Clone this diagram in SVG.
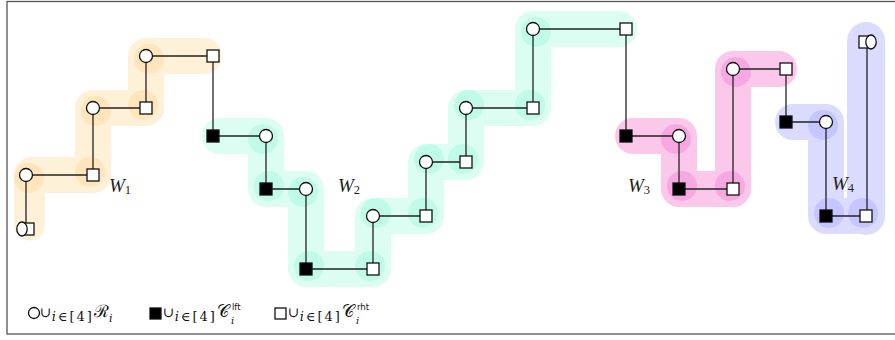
<svg xmlns="http://www.w3.org/2000/svg" xmlns:xlink="http://www.w3.org/1999/xlink" width="895" height="340" viewBox="0 0 895 340">
<style>
.band line,.band polyline{fill:none;stroke-linecap:round;stroke-linejoin:round;stroke-width:36}
.o{stroke:#ffb030;fill:#ffb030}
.c{stroke:#20f0b0;fill:#20f0b0}
.p{stroke:#f020b0;fill:#f020b0}
.b{stroke:#5050ff;fill:#5050ff}
.dk circle{stroke:none}
.edges line{stroke:#222;stroke-width:1.3}
.wn{fill:#fff;stroke:#111;stroke-width:1.3}
.bn{fill:#000;stroke:#111;stroke-width:1.3}
.lbl{font-family:"Liberation Serif","DejaVu Serif",serif;font-style:italic;font-size:19px;fill:#222}
.sub{font-family:"Liberation Serif","DejaVu Serif",serif;font-style:normal;font-size:12.5px;fill:#222}
.m{font-family:"DejaVu Serif","Liberation Serif",serif;fill:#111}
.s{font-family:"DejaVu Sans","Liberation Sans",sans-serif;fill:#111}
.ls{font-size:13px;letter-spacing:2px}
</style>
<defs>
<rect id="sq" x="-6" y="-6" width="12" height="12"/>
<circle id="ci" r="6.5"/>
</defs>
<rect x="0" y="0" width="895" height="340" fill="#fff"/>
<g id="bands">
<g class="band o" opacity="0.18">
<line x1="29.5" y1="225" x2="29.5" y2="178" style="stroke-width:31"/>
<polyline points="32,175 93,175 93,108 146,108 146,56 204,56"/>
</g>
<g class="dk o" opacity="0.16">
<circle cx="29" cy="178" r="15"/><circle cx="90" cy="172" r="15"/><circle cx="96" cy="111" r="15"/><circle cx="143" cy="105" r="15"/><circle cx="149" cy="59" r="15"/>
</g>
<g class="band c" opacity="0.16">
<polyline points="220,136 266,136 266,189 306,189 306,269 373,269 373,216 426,216 426,162 466,162 466,108 533,108 533,29 619,29"/>
</g>
<g class="dk c" opacity="0.14">
<circle cx="263" cy="139" r="15"/><circle cx="269" cy="186" r="15"/><circle cx="303" cy="192" r="15"/><circle cx="309" cy="266" r="15"/><circle cx="370" cy="266" r="15"/><circle cx="376" cy="213" r="15"/><circle cx="423" cy="213" r="15"/><circle cx="429" cy="159" r="15"/><circle cx="463" cy="159" r="15"/><circle cx="469" cy="105" r="15"/><circle cx="530" cy="105" r="15"/><circle cx="536" cy="32" r="15"/>
</g>
<g class="band p" opacity="0.25">
<polyline points="633,136 679,136 679,189 733,189 733,69 779,69"/>
</g>
<g class="dk p" opacity="0.18">
<circle cx="676" cy="139" r="15"/><circle cx="682" cy="186" r="15"/><circle cx="730" cy="186" r="15"/><circle cx="736" cy="72" r="15"/>
</g>
<g class="band b" opacity="0.2">
<polyline points="793,122 826,122 826,216 866,216"/>
<line x1="866" y1="216" x2="866" y2="41" style="stroke-width:38"/>
</g>
<g class="dk b" opacity="0.15">
<circle cx="823" cy="125" r="15"/><circle cx="829" cy="213" r="15"/><circle cx="863" cy="213" r="15"/>
</g>
</g>
<g id="connectors" class="edges">
<line x1="26" y1="229" x2="26" y2="175"/>
<line x1="26" y1="175" x2="93" y2="175"/>
<line x1="93" y1="175" x2="93" y2="108"/>
<line x1="93" y1="108" x2="146" y2="108"/>
<line x1="146" y1="108" x2="146" y2="56"/>
<line x1="146" y1="56" x2="213" y2="56"/>
<line x1="213" y1="56" x2="213" y2="136"/>
<line x1="213" y1="136" x2="266" y2="136"/>
<line x1="266" y1="136" x2="266" y2="189"/>
<line x1="266" y1="189" x2="306" y2="189"/>
<line x1="306" y1="189" x2="306" y2="269"/>
<line x1="306" y1="269" x2="373" y2="269"/>
<line x1="373" y1="269" x2="373" y2="216"/>
<line x1="373" y1="216" x2="426" y2="216"/>
<line x1="426" y1="216" x2="426" y2="162"/>
<line x1="426" y1="162" x2="466" y2="162"/>
<line x1="466" y1="162" x2="466" y2="108"/>
<line x1="466" y1="108" x2="533" y2="108"/>
<line x1="533" y1="108" x2="533" y2="29"/>
<line x1="533" y1="29" x2="626" y2="29"/>
<line x1="626" y1="29" x2="626" y2="136"/>
<line x1="626" y1="136" x2="679" y2="136"/>
<line x1="679" y1="136" x2="679" y2="189"/>
<line x1="679" y1="189" x2="733" y2="189"/>
<line x1="733" y1="189" x2="733" y2="69"/>
<line x1="733" y1="69" x2="786" y2="69"/>
<line x1="786" y1="69" x2="786" y2="122"/>
<line x1="786" y1="122" x2="826" y2="122"/>
<line x1="826" y1="122" x2="826" y2="216"/>
<line x1="826" y1="216" x2="866" y2="216"/>
<line x1="867" y1="216" x2="867" y2="42"/>
</g>
<g id="nodes">
<g id="n1"><use href="#sq" class="wn" x="28" y="229"/><ellipse class="wn" cx="22" cy="229" rx="5.2" ry="7"/></g>
<g id="n2"><use href="#ci" class="wn" x="26" y="175"/></g>
<g id="n3"><use href="#sq" class="wn" x="93" y="175"/></g>
<g id="n4"><use href="#ci" class="wn" x="93" y="108"/></g>
<g id="n5"><use href="#sq" class="wn" x="146" y="108"/></g>
<g id="n6"><use href="#ci" class="wn" x="146" y="56"/></g>
<g id="n7"><use href="#sq" class="wn" x="213" y="56"/></g>
<g id="n8"><use href="#sq" class="bn" x="213" y="136"/></g>
<g id="n9"><use href="#ci" class="wn" x="266" y="136"/></g>
<g id="n10"><use href="#sq" class="bn" x="266" y="189"/></g>
<g id="n11"><use href="#ci" class="wn" x="306" y="189"/></g>
<g id="n12"><use href="#sq" class="bn" x="306" y="269"/></g>
<g id="n13"><use href="#sq" class="wn" x="373" y="269"/></g>
<g id="n14"><use href="#ci" class="wn" x="373" y="216"/></g>
<g id="n15"><use href="#sq" class="wn" x="426" y="216"/></g>
<g id="n16"><use href="#ci" class="wn" x="426" y="162"/></g>
<g id="n17"><use href="#sq" class="wn" x="466" y="162"/></g>
<g id="n18"><use href="#ci" class="wn" x="466" y="108"/></g>
<g id="n19"><use href="#sq" class="wn" x="533" y="108"/></g>
<g id="n20"><use href="#ci" class="wn" x="533" y="29"/></g>
<g id="n21"><use href="#sq" class="wn" x="626" y="29"/></g>
<g id="n22"><use href="#sq" class="bn" x="626" y="136"/></g>
<g id="n23"><use href="#ci" class="wn" x="679" y="136"/></g>
<g id="n24"><use href="#sq" class="bn" x="679" y="189"/></g>
<g id="n25"><use href="#sq" class="wn" x="733" y="189"/></g>
<g id="n26"><use href="#ci" class="wn" x="733" y="69"/></g>
<g id="n27"><use href="#sq" class="wn" x="786" y="69"/></g>
<g id="n28"><use href="#sq" class="bn" x="786" y="122"/></g>
<g id="n29"><use href="#ci" class="wn" x="826" y="122"/></g>
<g id="n30"><use href="#sq" class="bn" x="826" y="216"/></g>
<g id="n31"><use href="#sq" class="wn" x="866" y="216"/></g>
<g id="n32"><use href="#sq" class="wn" x="865" y="42"/><ellipse class="wn" cx="871" cy="42" rx="5.2" ry="7"/></g>
</g>
<g id="labels">
<text class="lbl" x="109" y="192">W<tspan class="sub" dy="2">1</tspan></text>
<text class="lbl" x="338" y="192">W<tspan class="sub" dy="2">2</tspan></text>
<text class="lbl" x="628" y="192">W<tspan class="sub" dy="2">3</tspan></text>
<text class="lbl" x="832" y="190">W<tspan class="sub" dy="2">4</tspan></text>
</g>
<g id="legend">
<circle class="wn" cx="34" cy="313" r="5.5"/>
<text class="m" x="39.5" y="317" font-size="14">∪<tspan class="ls" dx="0.5" dy="4"><tspan font-style="italic">i</tspan>∈[4]</tspan><tspan dx="0" dy="-4" font-size="17" letter-spacing="0">ℛ</tspan><tspan dy="5" font-size="11" font-style="italic" letter-spacing="0">i</tspan></text>
<rect class="bn" x="150" y="308" width="11" height="11"/>
<text class="m" x="162.5" y="317" font-size="14">∪<tspan class="ls" dx="0.5" dy="4"><tspan font-style="italic">i</tspan>∈[4]</tspan><tspan dx="0" dy="-4" font-size="17" letter-spacing="0">𝒞</tspan></text>
<text class="m" x="231" y="324" font-size="10" font-style="italic">i</text>
<text class="s" x="232" y="310" font-size="8.5">lft</text>
<rect class="wn" x="275" y="308" width="11" height="11"/>
<text class="m" x="287.5" y="317" font-size="14">∪<tspan class="ls" dx="0.5" dy="4"><tspan font-style="italic">i</tspan>∈[4]</tspan><tspan dx="0" dy="-4" font-size="17" letter-spacing="0">𝒞</tspan></text>
<text class="m" x="356" y="324" font-size="10" font-style="italic">i</text>
<text class="s" x="357" y="310" font-size="8.5">rht</text>
</g>
<rect x="7" y="1.5" width="900" height="332.5" fill="none" stroke="#555" stroke-width="1.3"/>
</svg>
